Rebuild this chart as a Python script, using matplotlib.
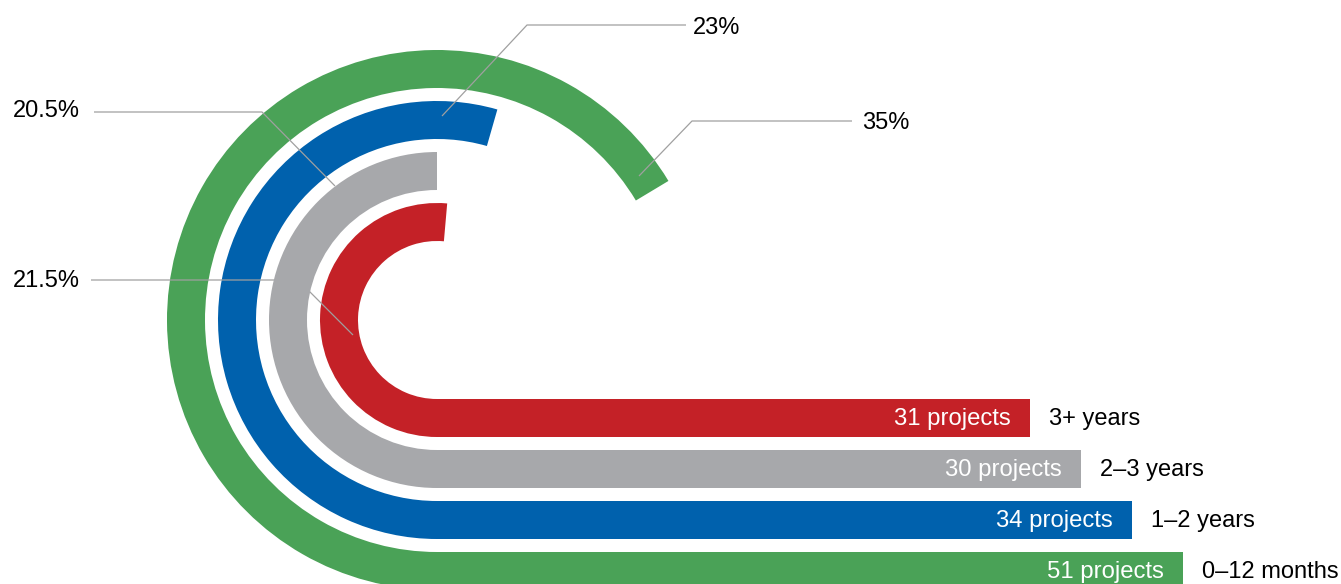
#!/usr/bin/env python3
"""
Project duration racetrack chart - share of projects by duration
"""

import matplotlib
matplotlib.use("Agg")
import matplotlib.pyplot as plt
from matplotlib.patches import Wedge, Rectangle

# data, inner track first
categories = ["3+ years", "2–3 years", "1–2 years", "0–12 months"]
projects = [31, 30, 34, 51]
shares = ["21.5%", "20.5%", "23%", "35%"]
# arc extent of each track in degrees
arc_deg = [185, 180, 196, 239]
colors = ["#C42127", "#A7A8AB", "#0061AD", "#4AA257"]

W, H = 1341, 584


def draw_chart(output_file: str = "out.png") -> str:
    """draw the racetrack chart in pixel coordinates"""
    plt.rcParams['font.family'] = ['Liberation Sans', 'DejaVu Sans']

    fig = plt.figure(figsize=(W / 100, H / 100), dpi=100)
    ax = fig.add_axes([0, 0, 1, 1])
    ax.set_xlim(0, W)
    ax.set_ylim(H, 0)
    ax.axis('off')

    # centre of the arcs, ring size
    cx, cy = 437, 320
    ring_w, step, r0 = 38, 51, 117
    straight = 495

    for i, (cat, n, deg, col) in enumerate(zip(categories, projects, arc_deg, colors)):
        r_out = r0 + i * step
        r_in = r_out - ring_w
        r_mid = (r_out + r_in) / 2
        z = 3 if i == 1 else 1
        # y axis is inverted, so angles run clockwise on screen
        ax.add_patch(Wedge((cx, cy), r_out, 90, 90 + deg, width=ring_w,
                           facecolor=col, edgecolor='none', zorder=z))
        end_x = cx + straight + r_mid
        ax.add_patch(Rectangle((cx, cy + r_in), end_x - cx, ring_w,
                               facecolor=col, edgecolor='none', zorder=z))
        ax.text(end_x - 19, cy + r_mid + 1, f"{n} projects", color='white',
                fontsize=17.2, ha='right', va='center', zorder=4)
        ax.text(end_x + 19, cy + r_mid + 1, cat, color='black',
                fontsize=17, ha='left', va='center', zorder=4)

    # leader lines for the percentages
    leaders = [
        (shares[0], (80, 281), 'right', [(91, 280), (298, 280), (353, 335)]),
        (shares[1], (80, 111), 'right', [(94, 112), (262, 112), (335, 186)]),
        (shares[2], (693, 28), 'left', [(686, 25), (527, 25), (442, 116)]),
        (shares[3], (862, 123), 'left', [(852, 121), (692, 121), (639, 176)]),
    ]
    for label, (tx, ty), ha, pts in leaders:
        xs = [p[0] for p in pts]
        ys = [p[1] for p in pts]
        ax.plot(xs, ys, color='#A0A0A0', linewidth=0.9, zorder=2,
                solid_capstyle='butt')
        ax.text(tx, ty, label, fontsize=17, ha=ha, va='center', color='black')

    fig.savefig(output_file, dpi=100)
    plt.close(fig)
    return output_file


def main():
    out = draw_chart("out.png")
    print(f"saved {out}")


if __name__ == "__main__":
    main()
